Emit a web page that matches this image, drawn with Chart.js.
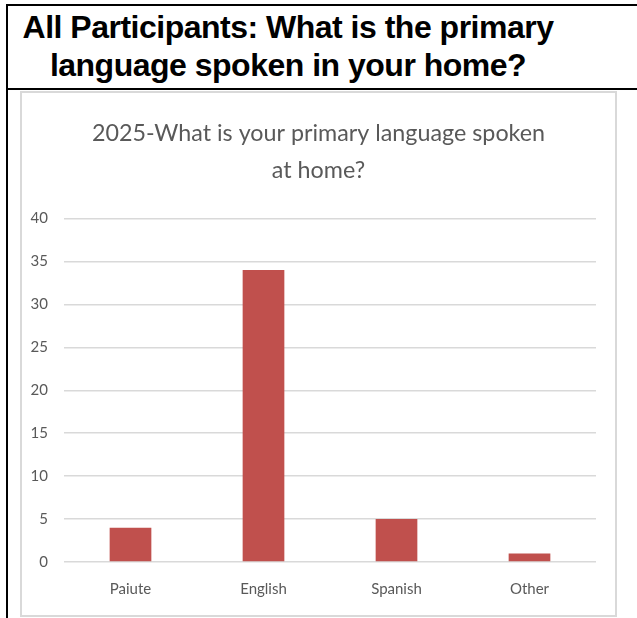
<!DOCTYPE html>
<html>
<head>
<meta charset="utf-8">
<script src="https://cdn.jsdelivr.net/npm/chart.js@4"></script>
<style>
  html, body { margin: 0; padding: 0; background: #fff; }
  body { width: 637px; height: 618px; position: relative; overflow: hidden; }
  #frame {
    position: absolute; left: 6px; top: 4px; width: 640px; height: 640px;
    border-left: 2px solid #000; border-top: 2px solid #000;
  }
  #heading {
    position: absolute; left: 6px; top: 4px; width: 640px; height: 84px;
    border-bottom: 2px solid #000;
  }
  #heading div {
    width: 564px; text-align: center;
    font-family: "Liberation Sans Narrow", "Arial Narrow", Arial, sans-serif;
    font-weight: bold; font-size: 32px; line-height: 38px; color: #000;
    letter-spacing: -0.5px; padding-top: 4px;
  }
  #chartBox {
    position: absolute; left: 20px; top: 91px; width: 593px; height: 522px;
    border: 2px solid #d9d9d9;
  }
</style>
</head>
<body>
<div id="frame"></div>
<div id="heading"><div>All Participants: What is the primary<br>language spoken in your home?</div></div>
<div id="chartBox"><canvas id="langChart" width="593" height="522"></canvas></div>
<script>
  const languages = ['Paiute', 'English', 'Spanish', 'Other'];
  const respondents = [4, 34, 5, 1];
  const chartTitle = ['2025-What is your primary language spoken', 'at home?'];

  const textColor = '#595959';
  const gridColor = '#d9d9d9';
  const fontFamily = 'Lato, "Open Sans", sans-serif';

  new Chart(document.getElementById('langChart'), {
    type: 'bar',
    data: {
      labels: languages,
      datasets: [{
        data: respondents,
        backgroundColor: '#c0504d',
        categoryPercentage: 0.95,
        barPercentage: 0.33
      }]
    },
    options: {
      responsive: false,
      animation: false,
      layout: { padding: 0 },
      plugins: {
        legend: { display: false },
        tooltip: { enabled: false },
        title: {
          display: true,
          text: chartTitle,
          color: textColor,
          font: { family: fontFamily, size: 23.3, weight: 'normal', lineHeight: 1.6 },
          padding: { top: 22, bottom: 29 }
        }
      },
      scales: {
        x: {
          grid: { display: false },
          border: { display: false },
          ticks: { color: textColor, font: { family: fontFamily, size: 15 }, padding: 10 },
          afterFit: (scale) => { scale.height = 53; }
        },
        y: {
          min: 0,
          max: 40,
          ticks: { stepSize: 5, color: textColor, font: { family: fontFamily, size: 15 }, padding: 16 },
          grid: { color: gridColor, lineWidth: 1.5, drawTicks: false },
          border: { display: false },
          afterFit: (scale) => { scale.width = 42; }
        },
        // empty right-hand axis, only reserves the gap after the plot
        spacer: {
          position: 'right',
          grid: { display: false },
          border: { display: false },
          ticks: { display: false },
          afterFit: (scale) => { scale.width = 19; }
        }
      }
    }
  });
</script>
</body>
</html>
